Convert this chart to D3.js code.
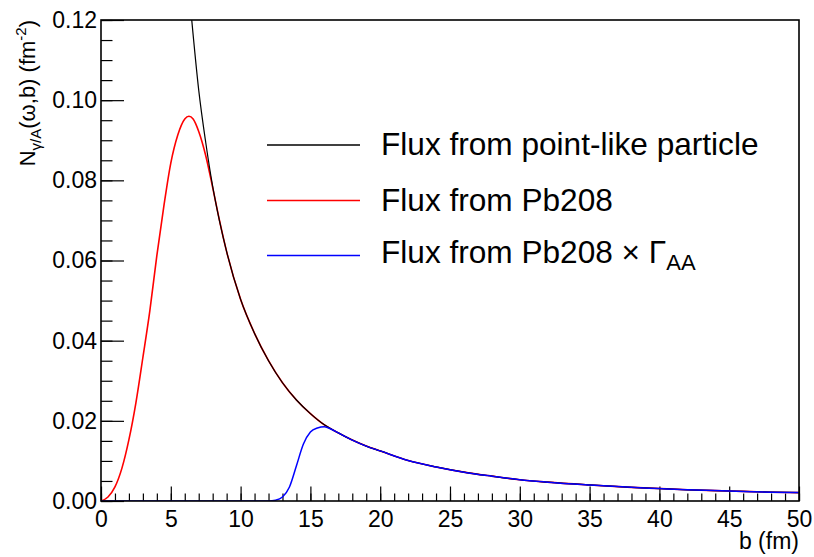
<!DOCTYPE html>
<html>
<head>
<meta charset="utf-8">
<script src="https://cdn.jsdelivr.net/npm/d3@7"></script>
<style>
  html, body { margin: 0; padding: 0; background: #fff; }
  svg { display: block; font-family: "Liberation Sans", Arial, Helvetica, sans-serif; }
</style>
</head>
<body>
<svg id="chart" width="814" height="557"></svg>
<script>
// Impact parameter grid (fm) and photon flux values (fm^-2)
const bRise = [0, 0.5, 1, 1.5, 2, 2.5, 3, 3.5, 4, 4.5, 5, 5.5, 6, 6.3, 6.6, 7, 7.5, 8, 8.5, 9];
const pbRise = [0, 0.0010, 0.0035, 0.0082, 0.0153, 0.0245, 0.0358, 0.0475, 0.0612, 0.0735, 0.0843, 0.0913, 0.0953, 0.0960, 0.0953, 0.0922, 0.0862, 0.0782, 0.0698, 0.0622];

const bPoint = [6.5, 7, 7.5, 8, 8.5, 9];
const pointHead = [0.1200, 0.1025, 0.0895, 0.0785, 0.0697, 0.0622];

// beyond b = 9 fm the point-like and Pb208 fluxes coincide
const bTail = [10, 11, 12, 13, 14, 15, 16, 17, 18, 19, 20, 22, 24, 26, 28, 30, 32, 35, 38, 40, 42, 45, 48, 50];
const fluxTail = [0.0503, 0.0418, 0.0350, 0.0295, 0.0252, 0.0218, 0.0190, 0.0170, 0.0152, 0.0137, 0.0125, 0.0101, 0.0085, 0.0072, 0.0062, 0.0053, 0.0047, 0.0040, 0.0034, 0.0031, 0.0028, 0.0025, 0.0022, 0.0021];

// survival-weighted flux below b = 17 fm
const bSurv = [0, 12, 12.5, 13, 13.5, 14, 14.5, 15, 15.5, 16, 16.5];
const survHead = [0, 0, 0.0002, 0.0010, 0.0035, 0.0088, 0.0142, 0.0172, 0.0182, 0.0185, 0.0179];

const xMajorTicks = [0, 5, 10, 15, 20, 25, 30, 35, 40, 45, 50];
const yMajorTicks = [0, 0.02, 0.04, 0.06, 0.08, 0.10, 0.12];

const legendLabels = ["Flux from point-like particle", "Flux from Pb208", "Flux from Pb208"];
const seriesColors = ["#000000", "#ff0000", "#0000ff"];

const zip = (xs, ys) => xs.map((v, i) => [v, ys[i]]);
const tailPts = bTail.map((v, i) => [v, fluxTail[i]]);
const pointData = zip(bPoint, pointHead).concat(tailPts);
const pbData = zip(bRise, pbRise).concat(tailPts);
const survData = zip(bSurv, survHead).concat(tailPts.filter(d => d[0] >= 17));

const svg = d3.select("#chart");
const L = 101, R = 799, T = 20, B = 501;
const tickFont = 23;

const x = d3.scaleLinear().domain([0, 50]).range([L, R]);
const y = d3.scaleLinear().domain([0, 0.12]).range([B, T]);

// x axis: major and minor ticks pointing into the frame
svg.append("g")
  .attr("transform", `translate(0,${B})`)
  .call(d3.axisBottom(x).tickValues(d3.range(0, 51, 1)).tickSize(-7.5).tickFormat(""))
  .call(g => g.select(".domain").remove());
svg.append("g")
  .attr("transform", `translate(0,${B})`)
  .call(d3.axisBottom(x).tickValues(xMajorTicks).tickSize(-14.5).tickPadding(10).tickFormat(d3.format("d")))
  .call(g => g.select(".domain").remove())
  .call(g => g.selectAll("text").attr("font-size", tickFont).attr("fill", "#000").attr("font-family", "Liberation Sans, Arial, sans-serif"));

// y axis
svg.append("g")
  .attr("transform", `translate(${L},0)`)
  .call(d3.axisLeft(y).tickValues(d3.range(0, 0.1201, 0.005)).tickSize(-11.5).tickFormat(""))
  .call(g => g.select(".domain").remove());
svg.append("g")
  .attr("transform", `translate(${L},0)`)
  .call(d3.axisLeft(y).tickValues(yMajorTicks).tickSize(-23).tickPadding(4).tickFormat(d3.format(".2f")))
  .call(g => g.select(".domain").remove())
  .call(g => g.selectAll("text").attr("font-size", tickFont).attr("fill", "#000").attr("font-family", "Liberation Sans, Arial, sans-serif"));

svg.selectAll(".tick line").attr("stroke", "#000").attr("stroke-width", 1.2);

// curves
svg.append("clipPath").attr("id", "plotclip")
  .append("rect").attr("x", L).attr("y", T).attr("width", R - L).attr("height", B - T);

const line = d3.line().x(d => x(d[0])).y(d => y(d[1])).curve(d3.curveMonotoneX);
const plot = svg.append("g").attr("clip-path", "url(#plotclip)");

plot.append("path").datum(pbData).attr("d", line)
  .attr("fill", "none").attr("stroke", seriesColors[1]).attr("stroke-width", 1.6);
plot.append("path").datum(pointData).attr("d", line)
  .attr("fill", "none").attr("stroke", seriesColors[0]).attr("stroke-width", 1.2);
plot.append("path").datum(survData).attr("d", line)
  .attr("fill", "none").attr("stroke", seriesColors[2]).attr("stroke-width", 1.5);

// frame
svg.append("rect").attr("x", L).attr("y", T).attr("width", R - L).attr("height", B - T)
  .attr("fill", "none").attr("stroke", "#000").attr("stroke-width", 1.6);

// legend
const legendY = [145, 200.5, 255.5];
const legendBase = [155, 211, 263];
const lg = svg.append("g");
legendLabels.forEach((lab, i) => {
  lg.append("line").attr("x1", 267).attr("x2", 360).attr("y1", legendY[i]).attr("y2", legendY[i])
    .attr("stroke", seriesColors[i]).attr("stroke-width", 1.5);
  const t = lg.append("text").attr("x", 381).attr("y", legendBase[i]).attr("font-size", 31.6).attr("fill", "#000");
  t.append("tspan").text(lab);
  if (i === 2) {
    t.append("tspan").text(" \u00d7 \u0393");
    t.append("tspan").attr("font-size", 22).attr("dy", 7).text("AA");
  }
});

// axis titles
svg.append("text").attr("x", R).attr("y", 549).attr("text-anchor", "end")
  .attr("font-size", 23).attr("fill", "#000").text("b (fm)");

const yt = svg.append("text")
  .attr("transform", `translate(35,${T}) rotate(-90)`)
  .attr("text-anchor", "end").attr("font-size", 22).attr("fill", "#000");
yt.append("tspan").text("N");
yt.append("tspan").attr("font-size", 15).attr("dy", 6).text("\u03b3/A");
yt.append("tspan").attr("dy", -6).text("(\u03c9,b) (fm");
yt.append("tspan").attr("font-size", 15).attr("dy", -9).text("-2");
yt.append("tspan").attr("dy", 9).text(")");
</script>
</body>
</html>
